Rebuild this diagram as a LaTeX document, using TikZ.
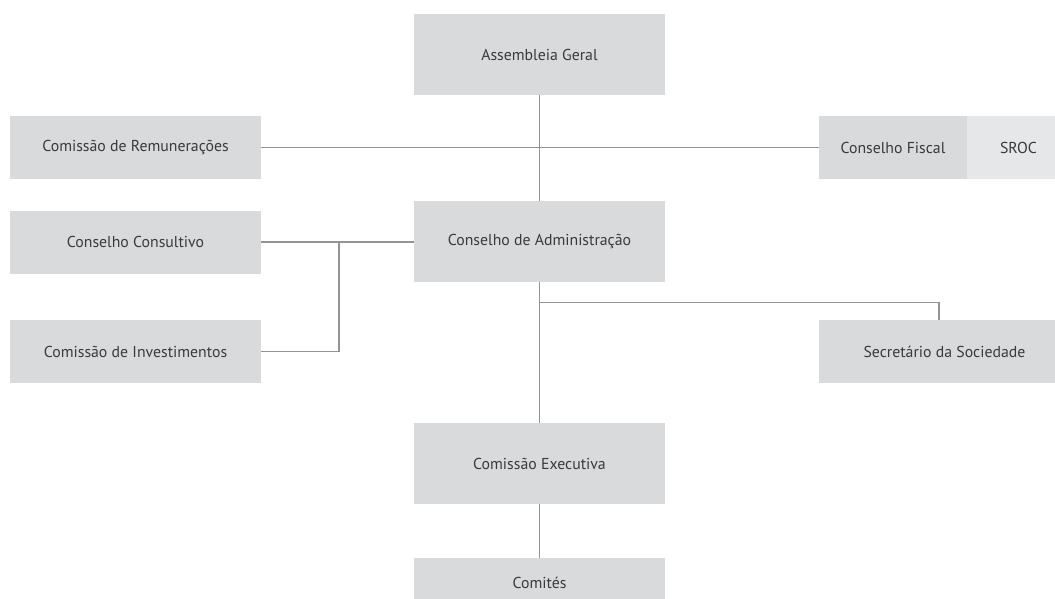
\documentclass[tikz,border=0pt]{standalone}
\usepackage{fontspec}
\setmainfont{PT Sans}
\definecolor{boxgray}{HTML}{D9DADC}
\definecolor{boxlight}{HTML}{E6E7E8}
\definecolor{linegray}{HTML}{939393}
\definecolor{textgray}{HTML}{3A3A3A}
\begin{document}
\begin{tikzpicture}[x=1pt,y=-1pt]
				\tikzset{
					org box/.style={rectangle,fill=boxgray,inner sep=0,text=textgray,font=\fontsize{15.8}{18}\selectfont,minimum width=251pt},
					tall box/.style={org box,minimum height=81pt},
					flat box/.style={org box,minimum height=63pt},
					link/.style={draw=linegray,line width=1.3pt}
				}
				\useasboundingbox(0,0)rectangle(1055,599);
				\node(ag)[tall box] at (539.5,54.5){Assembleia Geral};
				\node(cr)[flat box] at (135.5,147.5){Comissão de Remunerações};
				\node(cf)[flat box,minimum width=148pt] at (893,147.5){Conselho Fiscal};
				\node(sroc)[flat box,fill=boxlight,minimum width=103pt] at (1018.5,147.5){SROC};
				\node(cc)[flat box] at (135.5,242){Conselho Consultivo};
				\node(cadm)[tall box] at (539.5,241.5){Conselho de Administração};
				\node(ci)[flat box] at (135.5,351.5){Comissão de Investimentos};
				\node(ss)[flat box] at (944.5,351.5){Secretário da Sociedade};
				\node(ce)[tall box] at (539.5,463.5){Comissão Executiva};
				\node(cm)[org box,minimum height=50pt] at (539.5,583){Comités};
				\coordinate(j1) at (339,242);
				\coordinate(j2) at (539.5,302.5);
				\coordinate(j3) at (939,302.5);
				\draw[link](ag)to(cadm);
				\draw[link](cr)to(cf);
				\draw[link](cc.east)to(cc.east-|cadm.west);
				\draw[link](ci.east)-|(j1);
				\draw[link](cadm)to(ce);
				\draw[link](j2)to(j3)to(j3|-ss.north);
				\draw[link](ce)to(cm);
			\end{tikzpicture}
\end{document}
